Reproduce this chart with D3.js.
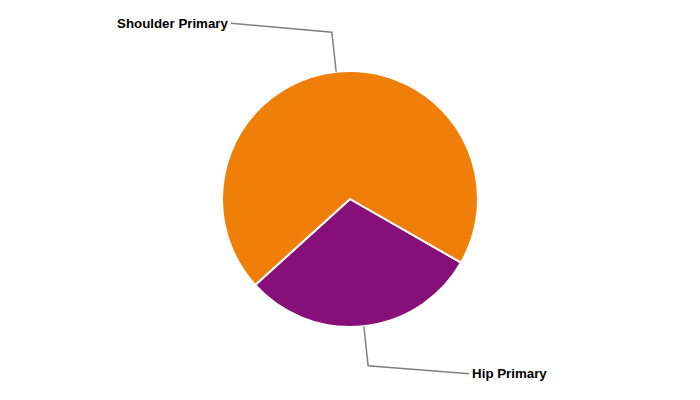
<!DOCTYPE html>
<html><head><meta charset="utf-8">
<script src="https://cdn.jsdelivr.net/npm/d3@7"></script>
<style>body{margin:0;background:#fff}svg{display:block}</style>
</head><body>
<svg id="c" width="700" height="400"></svg>
<script>
const categories = ["Hip Primary", "Shoulder Primary"];
const values = [30, 70];
const colors = ["#860F7A", "#F07F09"];

const svg = d3.select("#c");
const cx = 350, cy = 199, r = 128;
const g = svg.append("g").attr("transform", `translate(${cx},${cy})`);
const data = categories.map((c, i) => ({name: c, value: values[i], color: colors[i]}));
const pie = d3.pie().value(d => d.value).sort(null)
  .startAngle(119.8 * Math.PI / 180).endAngle(119.8 * Math.PI / 180 + 2 * Math.PI);
const arcs = pie(data);
const arc = d3.arc().innerRadius(0).outerRadius(r);
g.selectAll("path.slice").data(arcs).join("path")
  .attr("class", "slice")
  .attr("d", arc)
  .attr("fill", d => d.data.color)
  .attr("stroke", "#fff").attr("stroke-width", 2).attr("stroke-linejoin", "round");

arcs.forEach(a => {
  const mid = (a.startAngle + a.endAngle) / 2;
  const sx = Math.sin(mid), sy = -Math.cos(mid);
  const p0 = [sx * r, sy * r];
  const p1 = [sx * r * 1.31, sy * r * 1.31];
  const right = sx > 0;
  const p2 = [p1[0] + (right ? 101 : -101), p1[1] + (right ? 8 : -9)];
  g.append("polyline")
    .attr("points", [p0, p1, p2].map(p => p.join(",")).join(" "))
    .attr("fill", "none").attr("stroke", "#7f7f7f").attr("stroke-width", 1.5);
  g.append("text")
    .attr("x", p2[0] + (right ? 3 : -3)).attr("y", p2[1])
    .attr("dy", "0.35em")
    .attr("text-anchor", right ? "start" : "end")
    .attr("font-family", "Liberation Sans, Arial, sans-serif")
    .attr("font-weight", "bold").attr("font-size", 13.3)
    .attr("fill", "#000")
    .text(a.data.name);
});
</script>
</body></html>
